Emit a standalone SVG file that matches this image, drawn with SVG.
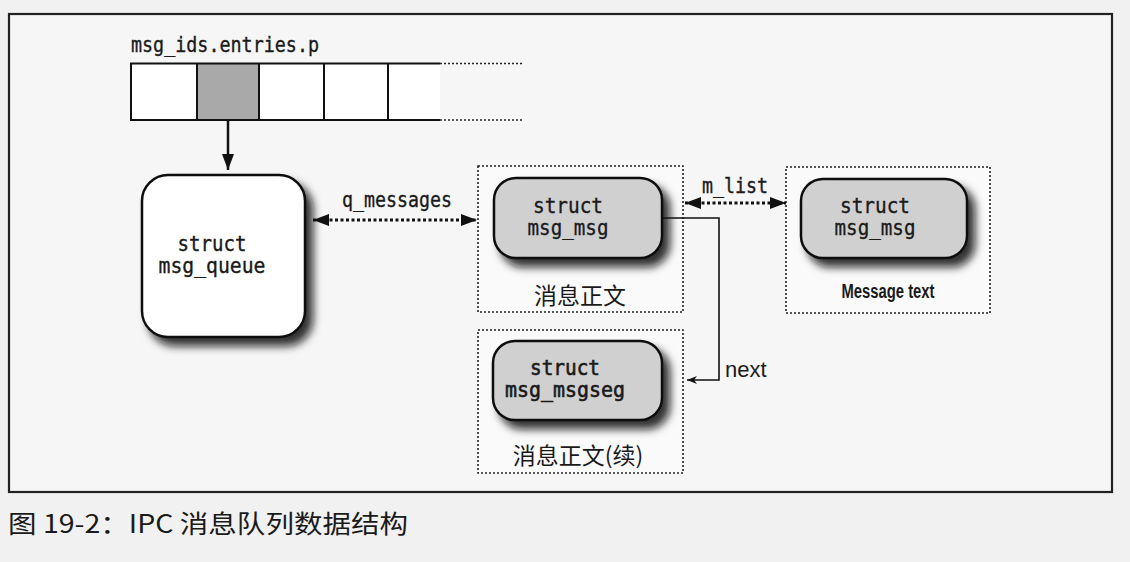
<svg xmlns="http://www.w3.org/2000/svg" width="1130" height="562" viewBox="0 0 1130 562">
<defs>
<style>
.mono{font-family:"DejaVu Sans Mono","Liberation Mono",monospace;fill:#1a1a1a;stroke:#1a1a1a;stroke-width:0.35;font-size:21px}
.cjk{font-family:"Noto Sans CJK SC","Noto Sans",sans-serif;fill:#1a1a1a}
.sans{font-family:"Liberation Sans","Noto Sans",sans-serif;fill:#1a1a1a}
.grp{fill:#fafafa;stroke:#222;stroke-width:1.6;stroke-dasharray:2 2}
.node{stroke:#111;stroke-width:2.5}
.dot{fill:none;stroke:#111;stroke-width:3;stroke-dasharray:3 2.5}
.solid{fill:none;stroke:#111;stroke-width:2}
</style>
<filter id="sh" x="-20%" y="-20%" width="150%" height="160%">
<feDropShadow dx="7" dy="8" stdDeviation="4" flood-color="#111" flood-opacity="0.85"/>
</filter>
<marker id="ah" viewBox="0 0 16 12" refX="16" refY="6" markerWidth="16" markerHeight="12" markerUnits="userSpaceOnUse" orient="auto-start-reverse">
<path d="M0,0 L16,6 L0,12 z" fill="#111"/>
</marker>
<marker id="as" viewBox="0 0 10 8" refX="10" refY="4" markerWidth="10" markerHeight="8" markerUnits="userSpaceOnUse" orient="auto">
<path d="M0,0 L10,4 L0,8 L3,4 z" fill="#111"/>
</marker>
</defs>
<rect x="0" y="0" width="1130" height="562" fill="#f1f1f1"/>
<rect id="frame" x="9" y="14" width="1103" height="478" fill="#f6f6f6" stroke="#222" stroke-width="2.2"/>

<g id="array">
<text class="mono" x="131" y="52" textLength="188" lengthAdjust="spacingAndGlyphs">msg_ids.entries.p</text>
<rect x="197" y="63.5" width="62" height="56.5" fill="#a9a9a9"/>
<rect x="131" y="63.5" width="66" height="56.5" fill="#fff"/>
<rect x="259" y="63.5" width="181" height="56.5" fill="#fff"/>
<path class="solid" d="M440,63.5 H131 V120 H440 M197,63.5 V120 M259,63.5 V120 M324,63.5 V120 M388,63.5 V120"/>
<path d="M440,63.5 H523 M440,120 H523" fill="none" stroke="#222" stroke-width="1.5" stroke-dasharray="2 2"/>
</g>

<g id="msg_queue">
<rect class="node" x="142" y="175" width="163" height="162" rx="26" fill="#fff" filter="url(#sh)"/>
<text class="mono" x="212" y="251" text-anchor="middle" textLength="69" lengthAdjust="spacingAndGlyphs">struct</text>
<text class="mono" x="212" y="273" text-anchor="middle" textLength="107" lengthAdjust="spacingAndGlyphs">msg_queue</text>
</g>

<g id="msg_msg_1">
<rect class="grp" x="478" y="166" width="205" height="146"/>
<rect class="node" x="494" y="178" width="168" height="80" rx="22" fill="#d0d0d0" filter="url(#sh)"/>
<text class="mono" x="568" y="213" text-anchor="middle" textLength="70" lengthAdjust="spacingAndGlyphs">struct</text>
<text class="mono" x="568" y="235" text-anchor="middle" textLength="81" lengthAdjust="spacingAndGlyphs">msg_msg</text>
<text class="cjk" x="580" y="304" font-size="23" text-anchor="middle">消息正文</text>
</g>

<g id="msg_msg_2">
<rect class="grp" x="786" y="167" width="204" height="146"/>
<rect class="node" x="801" y="179" width="166" height="79" rx="22" fill="#d0d0d0" filter="url(#sh)"/>
<text class="mono" x="875" y="213" text-anchor="middle" textLength="70" lengthAdjust="spacingAndGlyphs">struct</text>
<text class="mono" x="875" y="235" text-anchor="middle" textLength="81" lengthAdjust="spacingAndGlyphs">msg_msg</text>
<text class="sans" x="888" y="298" font-size="20" font-weight="bold" text-anchor="middle" textLength="93" lengthAdjust="spacingAndGlyphs">Message text</text>
</g>

<g id="msg_msgseg">
<rect class="grp" x="478" y="330" width="205" height="143"/>
<rect class="node" x="493" y="341" width="169" height="79" rx="22" fill="#d0d0d0" filter="url(#sh)"/>
<text class="mono" x="565" y="375" text-anchor="middle" textLength="70" lengthAdjust="spacingAndGlyphs" style="stroke-width:0.6">struct</text>
<text class="mono" x="565" y="397" text-anchor="middle" textLength="120" lengthAdjust="spacingAndGlyphs" style="stroke-width:0.6">msg_msgseg</text>
<text class="cjk" x="578" y="464" font-size="23" text-anchor="middle">消息正文(续)</text>
</g>

<g id="connectors">
<line x1="228" y1="120" x2="228" y2="170" stroke="#111" stroke-width="2.5" marker-end="url(#ah)"/>
<line class="dot" x1="313" y1="220" x2="477" y2="220" marker-start="url(#ah)" marker-end="url(#ah)"/>
<text class="mono" x="397" y="207" text-anchor="middle" textLength="110" lengthAdjust="spacingAndGlyphs">q_messages</text>
<line class="dot" x1="685" y1="203" x2="786" y2="203" marker-start="url(#ah)" marker-end="url(#ah)"/>
<text class="mono" x="735" y="193" text-anchor="middle" textLength="66" lengthAdjust="spacingAndGlyphs">m_list</text>
<path d="M662,218 H719 V380 H687" fill="none" stroke="#111" stroke-width="1.6" marker-end="url(#as)"/>
<text class="sans" x="725" y="377" font-size="22">next</text>
</g>

<text class="cjk" x="8" y="533" font-size="25" textLength="400" lengthAdjust="spacingAndGlyphs">图 19-2：IPC 消息队列数据结构</text>
</svg>
